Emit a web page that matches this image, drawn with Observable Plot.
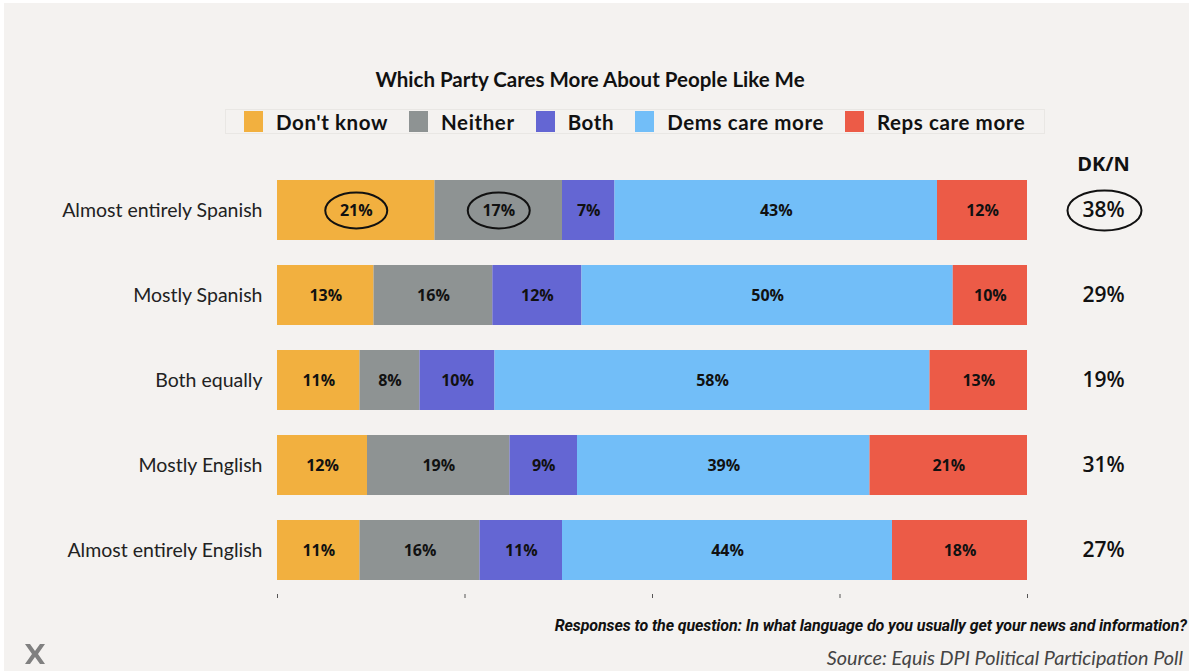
<!DOCTYPE html>
<html>
<head>
<meta charset="utf-8">
<script src="https://cdn.jsdelivr.net/npm/d3@7"></script>
<script src="https://cdn.jsdelivr.net/npm/@observablehq/plot@0.6"></script>
<style>
  html, body { margin: 0; padding: 0; }
  body { width: 1191px; height: 671px; background: #F4F2F0; position: relative; overflow: hidden; font-family: Lato, "Open Sans", sans-serif; color: #111; }
  #frame { position: absolute; left: 0; top: 0; width: 1191px; height: 671px; box-sizing: border-box; border-top: 3px solid #fff; border-left: 4px solid #fff; border-right: 2px solid #fff; pointer-events: none; }
  #title { position: absolute; top: 67px; left: 0; width: 1180px; text-align: center; font-size: 20.5px; font-weight: 700; color: #111; letter-spacing: 0px; }
  #legend { position: absolute; left: 225px; top: 109px; width: 820px; height: 25px; box-sizing: border-box; border: 1px solid #E9E7E4; display: flex; flex-wrap: nowrap; align-items: center; padding-left: 18px; overflow: visible; }
  .item { display: flex; flex-shrink: 0; white-space: nowrap; align-items: center; margin-right: 21px; font-size: 20.5px; font-weight: 700; color: #111; letter-spacing: 0.6px; }
  .sw { width: 19px; height: 21px; margin-right: 13px; flex-shrink: 0; }
  #chart { position: absolute; left: 0; top: 140px; }
  #q { position: absolute; right: 4px; top: 616px; font-family: Roboto, sans-serif; font-style: italic; font-weight: 700; font-size: 16px; color: #111; letter-spacing: -0.1px; }
  #src { position: absolute; right: 8px; top: 645px; font-family: Lato, sans-serif; font-style: italic; font-weight: 400; font-size: 19.8px; color: #444; }
  #logo { position: absolute; left: 24px; top: 643px; }
</style>
</head>
<body>
<div id="title"></div>
<div id="legend"></div>
<div id="chart"></div>
<div id="q"></div>
<div id="src"></div>
<svg id="logo" width="22" height="22" viewBox="0 0 22 22">
  <path d="M1 1 L6 1 L11 8 L16 1 L21 1 L14 11 L21 21 L16 21 L11 14 L6 21 L1 21 L8 11 Z" fill="#808080"/>
</svg>
<div id="frame"></div>
<script>
// ---- data ----
const titleText = "Which Party Cares More About People Like Me";
const questionText = "Responses to the question: In what language do you usually get your news and information?";
const sourceText = "Source: Equis DPI Political Participation Poll";
const rows = ["Almost entirely Spanish", "Mostly Spanish", "Both equally", "Mostly English", "Almost entirely English"];
const responses = ["Don't know", "Neither", "Both", "Dems care more", "Reps care more"];
const dontKnow = [21, 13, 11, 12, 11];
const neither  = [17, 16, 8, 19, 16];
const both     = [7, 12, 10, 9, 11];
const dems     = [43, 50, 58, 39, 44];
const reps     = [12, 10, 13, 21, 18];
const dkn      = [38, 29, 19, 31, 27];
const dknLabel = "DK/N";
const colors = ["#F2B03F", "#8E9393", "#6466D3", "#72BEF8", "#EC5B47"];
const circledCells = [["Almost entirely Spanish", "Don't know"], ["Almost entirely Spanish", "Neither"]];
const circledDkn = ["Almost entirely Spanish"];
const xTicks = [0, 0.25, 0.5, 0.75, 1];

// ---- build table ----
const seriesValues = [dontKnow, neither, both, dems, reps];
const table = [];
rows.forEach((row, i) => {
  responses.forEach((resp, j) => {
    table.push({row, response: resp, value: seriesValues[j][i],
      circled: circledCells.some(([r, s]) => r === row && s === resp)});
  });
});
const dknTable = rows.map((row, i) => ({row, value: dkn[i], circled: circledDkn.includes(row)}));

// ---- text / legend ----
document.getElementById("title").textContent = titleText;
document.getElementById("q").textContent = questionText;
document.getElementById("src").textContent = sourceText;
const legend = document.getElementById("legend");
responses.forEach((r, i) => {
  const it = document.createElement("div");
  it.className = "item";
  const sw = document.createElement("div");
  sw.className = "sw";
  sw.style.background = colors[i];
  const t = document.createElement("span");
  t.textContent = r;
  it.appendChild(sw); it.appendChild(t);
  legend.appendChild(it);
});

// ---- ellipse symbols ----
function ellipse(rx, ry) {
  return {
    draw(ctx) {
      const k = 0.5523;
      ctx.moveTo(rx, 0);
      ctx.bezierCurveTo(rx, ry * k, rx * k, ry, 0, ry);
      ctx.bezierCurveTo(-rx * k, ry, -rx, ry * k, -rx, 0);
      ctx.bezierCurveTo(-rx, -ry * k, -rx * k, -ry, 0, -ry);
      ctx.bezierCurveTo(rx * k, -ry, rx, -ry * k, rx, 0);
      ctx.closePath();
    }
  };
}

const stackOpts = {x: "value", y: "row", z: "response", offset: "normalize"};

const chart = Plot.plot({
  width: 1191,
  height: 470,
  marginLeft: 277,
  marginRight: 164,
  marginTop: 39,
  marginBottom: 29,
  style: {background: "transparent", fontFamily: "Lato, sans-serif", color: "#222"},
  x: {domain: [0, 1]},
  y: {domain: rows, paddingInner: 0.298, paddingOuter: 0},
  color: {domain: responses, range: colors},
  marks: [
    Plot.barX(table, Plot.stackX({...stackOpts, fill: "response"})),
    Plot.text(table, Plot.stackX({...stackOpts, text: d => d.value + "%",
      fontFamily: "'Open Sans', sans-serif", fontSize: 16, fontWeight: 700, fill: "#111"})),
    Plot.dot(table, Plot.stackX({...stackOpts, symbol: ellipse(31, 18), r: 5,
      fill: "none", stroke: "#111", strokeWidth: 2, strokeOpacity: d => d.circled ? 1 : 0})),
    Plot.axisY({tickSize: 0, tickPadding: 15, fontSize: 19.5, fill: "#222", label: null}),
    Plot.axisX(xTicks, {tickSize: 4, dy: 13, tickFormat: () => "", stroke: "#555", label: null}),
    Plot.text([dknLabel], {frameAnchor: "top-right", dx: 76, dy: -15, textAnchor: "middle", lineAnchor: "middle",
      fontFamily: "'Open Sans', sans-serif", fontSize: 20, fontWeight: 700, fill: "#111"}),
    Plot.text(dknTable, {y: "row", text: d => d.value + "%", frameAnchor: "right", dx: 76, textAnchor: "middle",
      fontFamily: "'Open Sans', sans-serif", fontSize: 21, fontWeight: 600, fill: "#111"}),
    Plot.dot(dknTable, {y: "row", frameAnchor: "right", dx: 77, symbol: ellipse(37, 20), r: 5,
      fill: "none", stroke: "#111", strokeWidth: 2, strokeOpacity: d => d.circled ? 1 : 0})
  ]
});
document.getElementById("chart").appendChild(chart);
</script>
</body>
</html>
